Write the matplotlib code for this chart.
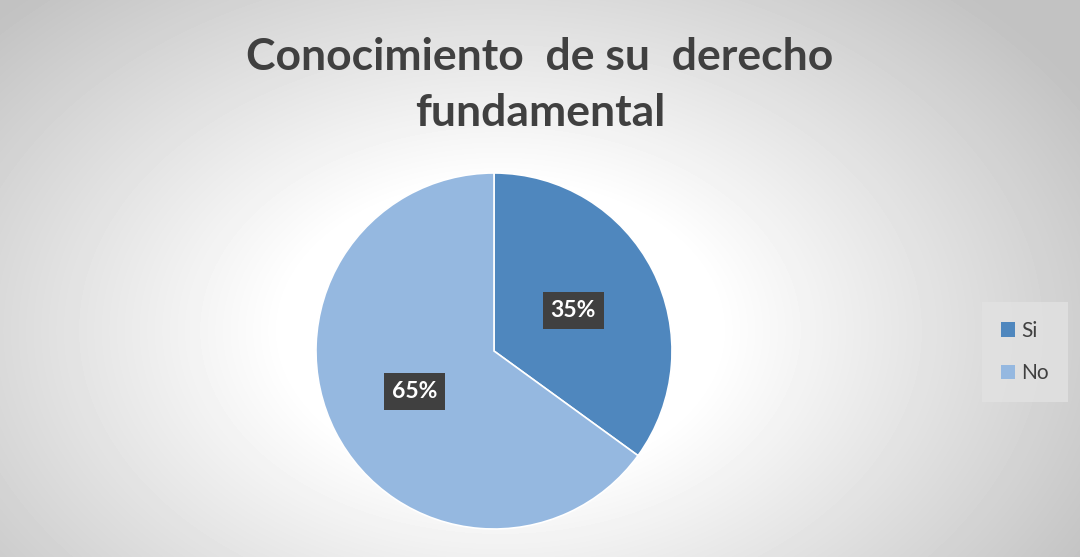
import numpy as np
import matplotlib
matplotlib.use("Agg")
import matplotlib.pyplot as plt
from matplotlib.patches import Patch

# datos
categorias = ["Si", "No"]
valores = [35, 65]
colores = ["#4f87be", "#95b8e0"]
titulo = "Conocimiento  de su  derecho\nfundamental"

plt.rcParams['font.family'] = ['Lato', 'DejaVu Sans']

fig = plt.figure(figsize=(10.8, 5.57), dpi=100)

# fondo con degradado radial
bg = fig.add_axes([0, 0, 1, 1])
yy, xx = np.mgrid[0:557, 0:1080]
d = np.sqrt(((xx - 500) / 620.0) ** 2 + ((yy - 330) / 420.0) ** 2)
g = np.clip(1.0 - 0.24 * np.clip(d - 0.35, 0, None) / 0.75, 0.76, 1.0)
bg.imshow(g, cmap="gray", vmin=0, vmax=1, aspect="auto", extent=[0, 1080, 557, 0])
bg.set_xlim(0, 1080)
bg.set_ylim(557, 0)
bg.axis("off")

# pastel
ax = fig.add_axes([316 / 1080, (557 - 529) / 557, 356 / 1080, 356 / 557])
wedges, texts, autotexts = ax.pie(valores, colors=colores, startangle=90, counterclock=False,
                                  autopct='%1.0f%%', pctdistance=0.5,
                                  wedgeprops=dict(linewidth=1.2, edgecolor="white"))
for t in autotexts:
    t.set_color("white")
    t.set_fontsize(16.5)
    t.set_fontweight("bold")
    t.set_bbox(dict(boxstyle="square,pad=0.35", facecolor="#404040", edgecolor="none"))
ax.set_xlim(-1, 1)
ax.set_ylim(-1, 1)
ax.set_aspect("equal")

fig.text(0.5, 1 - 85 / 557, titulo, ha="center", va="center", fontsize=32,
         fontweight="bold", color="#404040", linespacing=1.5)

handles = [Patch(facecolor=c, edgecolor="none") for c in colores]
leg = fig.legend(handles, categorias, loc="center", bbox_to_anchor=(1025 / 1080, 1 - 352 / 557),
                 frameon=True, fontsize=15, handlelength=0.7, handleheight=0.7,
                 labelspacing=1.1, handletextpad=0.3, borderpad=0.6)
leg.get_frame().set_facecolor("#e2e2e2")
leg.get_frame().set_edgecolor("none")
leg.get_frame().set_boxstyle("square")
leg.get_frame().set_alpha(0.8)
for t in leg.get_texts():
    t.set_color("#404040")

fig.savefig("out.png", dpi=100)
